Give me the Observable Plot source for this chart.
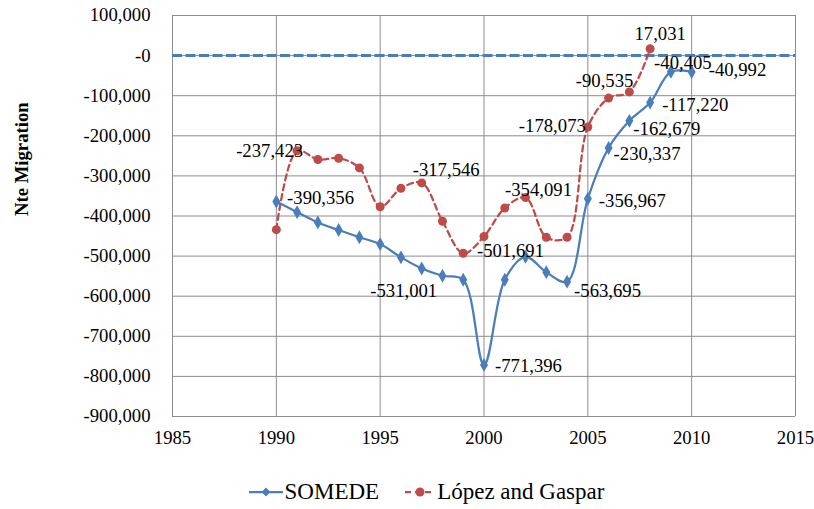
<!DOCTYPE html>
<html>
<head>
<meta charset="utf-8">
<script src="https://cdn.jsdelivr.net/npm/d3@7"></script>
<script src="https://cdn.jsdelivr.net/npm/@observablehq/plot@0.6"></script>
<style>
  html, body { margin: 0; padding: 0; background: #fff; }
  #chart { width: 814px; height: 460px; }
  #legend { width: 775px; height: 34px; padding-top: 15px; padding-left: 39px; display: flex; justify-content: center; align-items: center;
    font-family: Liberation Serif, serif; font-size: 23px; color: #000; }
  #legend .item { display: flex; align-items: center; margin: 0 13px; }
  #legend svg { margin-right: 2px; }
</style>
</head>
<body>
<div id="chart"></div>
<div id="legend"></div>
<script>
// ---- data ----
const somedeYears = [1990,1991,1992,1993,1994,1995,1996,1997,1998,1999,2000,2001,2002,2003,2004,2005,2006,2007,2008,2009,2010];
const somedeValues = [-364000,-390356,-416000,-435000,-453000,-470000,-503000,-531001,-549000,-559000,-771396,-559000,-501691,-540000,-563695,-356967,-230337,-162679,-117220,-40405,-40992];
const lopezYears = [1990,1991,1992,1993,1994,1995,1996,1997,1998,1999,2000,2001,2002,2003,2004,2005,2006,2007,2008];
const lopezValues = [-434000,-237423,-259000,-256000,-280000,-377000,-331000,-317546,-413000,-493000,-451000,-380000,-354091,-453000,-453000,-178073,-106000,-90535,17031];
const seriesNames = ["SOMEDE", "López and Gaspar"];
const xTicks = [1985,1990,1995,2000,2005,2010,2015];
const yTicks = [100000,0,-100000,-200000,-300000,-400000,-500000,-600000,-700000,-800000,-900000];
const yTitle = "Nte Migration";
// years whose values carry a data label
const labelledSomede = [1991,1997,2000,2002,2004,2005,2006,2007,2008,2009,2010];
const labelledLopez = [1991,1997,2002,2005,2007,2008];

// ---- label placement (separate from data) ----
const placeS = {
  1991:["start",-10,-14], 1997:["middle",-18,22], 2000:["start",11,1], 2002:["middle",-15,-6],
  2004:["start",7,9], 2005:["start",11,2], 2006:["start",5,6], 2007:["start",4,8],
  2008:["start",12,2], 2009:["middle",12,-9], 2010:["start",17,-2]
};
const placeL = {
  1991:["end",6,0], 1997:["start",-9,-13], 2002:["middle",13,-8], 2005:["end",-2,-1],
  2007:["end",4,-11], 2008:["middle",10,-15]
};

const blue = "#4A7EBB", red = "#BE4B48", grid = "#8c8c8c";
const font = "Liberation Serif, serif";
const loc = d3.formatLocale({decimal: ".", thousands: ",", grouping: [3], currency: ["", ""], minus: "-"});
const fmt = loc.format(",");
const yFmt = d => d === 0 ? "-0" : fmt(d);

const somede = somedeYears.map((y, i) => ({year: y, value: somedeValues[i], series: seriesNames[0]}));
const lopez = lopezYears.map((y, i) => ({year: y, value: lopezValues[i], series: seriesNames[1]}));

function labelMarks(data, years, place) {
  return years.map(yr => {
    const d = data.find(e => e.year === yr);
    const [anchor, dx, dy] = place[yr];
    return Plot.text([d], {x: "year", y: "value", text: e => fmt(e.value), textAnchor: anchor, dx, dy,
      fill: "#000", fontSize: 18.7, fontFamily: font});
  });
}

const chart = Plot.plot({
  width: 814,
  height: 460,
  marginLeft: 172,
  marginRight: 19,
  marginTop: 15,
  marginBottom: 44,
  style: {fontFamily: font, background: "#fff"},
  x: {domain: [1985, 2015], label: null},
  y: {domain: [-900000, 100000], label: null},
  marks: [
    Plot.ruleY(yTicks, {stroke: grid, strokeWidth: 1}),
    Plot.ruleX(xTicks, {stroke: grid, strokeWidth: 1}),
    Plot.axisX({ticks: xTicks, tickSize: 0, tickPadding: 14, tickFormat: d => String(d), fontSize: 18.7, fontFamily: font, fill: "#000", label: null}),
    Plot.axisY({ticks: yTicks, tickSize: 0, tickPadding: 22, tickFormat: yFmt, fontSize: 18.7, fontFamily: font, fill: "#000", label: null}),
    Plot.text([yTitle], {frameAnchor: "left", rotate: -90, dx: -150, fontWeight: "bold", fontSize: 18.7, fontFamily: font, fill: "#000"}),
    Plot.ruleY([0], {stroke: blue, strokeWidth: 3, strokeDasharray: "10,3.5"}),
    Plot.line(lopez, {x: "year", y: "value", stroke: red, strokeWidth: 2.25, strokeDasharray: "6,4", curve: "catmull-rom"}),
    Plot.dot(lopez, {x: "year", y: "value", fill: red, r: 4.5, symbol: "circle"}),
    Plot.line(somede, {x: "year", y: "value", stroke: blue, strokeWidth: 2.25, curve: "catmull-rom"}),
    Plot.dot(somede, {x: "year", y: "value", fill: blue, r: 4.2, symbol: "diamond"}),
    ...labelMarks(somede, labelledSomede, placeS),
    ...labelMarks(lopez, labelledLopez, placeL)
  ]
});
document.getElementById("chart").appendChild(chart);

// legend
const legend = document.getElementById("legend");
legend.innerHTML =
  `<div class="item"><svg width="34" height="12"><line x1="0" y1="6" x2="34" y2="6" stroke="${blue}" stroke-width="2.25"/><path d="M17,1.5 L21.5,6 L17,10.5 L12.5,6 Z" fill="${blue}"/></svg><span>${seriesNames[0]}</span></div>` +
  `<div class="item"><svg width="30" height="12"><line x1="0" y1="6" x2="30" y2="6" stroke="${red}" stroke-width="2.25" stroke-dasharray="6,4"/><circle cx="15" cy="6" r="4.5" fill="${red}"/></svg><span>${seriesNames[1]}</span></div>`;
</script>
</body>
</html>
